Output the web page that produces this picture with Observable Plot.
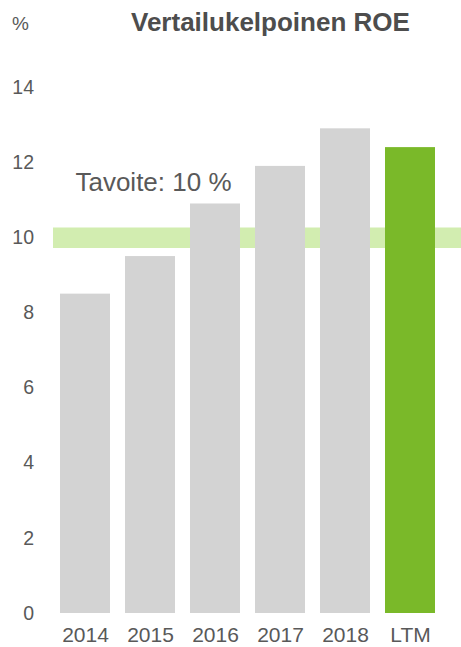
<!DOCTYPE html>
<html>
<head>
<meta charset="utf-8">
<script src="https://cdn.jsdelivr.net/npm/d3@7"></script>
<script src="https://cdn.jsdelivr.net/npm/@observablehq/plot@0.6"></script>
<style>
  body { margin: 0; background: #fff; font-family: Arial, "Liberation Sans", sans-serif; }
  #head { position: relative; width: 461px; height: 45px; }
  #unit { position: absolute; left: 12px; top: 14px; font-size: 19px; line-height: 19px; color: #595959; }
  #title { position: absolute; left: 131px; top: 9px; font-size: 26px; line-height: 26px; font-weight: bold; color: #4d4d4d; white-space: nowrap; }
  #chart svg { display: block; }
</style>
</head>
<body>
<div id="head"><span id="unit">%</span><span id="title">Vertailukelpoinen ROE</span></div>
<div id="chart"></div>
<script>
const categories = ["2014", "2015", "2016", "2017", "2018", "LTM"];
const roeValues = [8.5, 9.5, 10.9, 11.9, 12.9, 12.4];
const yTicks = [0, 2, 4, 6, 8, 10, 12, 14];
const target = 10;
const targetLabel = "Tavoite: 10 %";
const highlight = "LTM";

const data = categories.map((c, i) => ({ cat: c, value: roeValues[i] }));

const gray = "#d3d3d3";
const green = "#7ab929";
const bandColor = "#d2edb0";
const textColor = "#595959";

const chart = Plot.plot({
  width: 461,
  height: 602,
  marginLeft: 53,
  marginRight: 0,
  marginTop: 42,
  marginBottom: 34,
  style: { fontFamily: "Arial, 'Liberation Sans', sans-serif", color: textColor, background: "#fff" },
  x: { domain: categories, range: [60, 436], paddingInner: 0.23, paddingOuter: 0, label: null },
  y: { domain: [0, 14], ticks: yTicks, label: null },
  marks: [
    Plot.ruleY([target], { stroke: bandColor, strokeWidth: 20.5 }),
    Plot.barY(data, { x: "cat", y: "value", fill: d => d.cat === highlight ? green : gray }),
    Plot.text([targetLabel], { x: () => categories[1], y: () => target, text: d => d, dx: 3, dy: -55, fontSize: 26, fill: textColor }),
    Plot.axisX({ tickSize: 0, tickPadding: 14, fontSize: 21, fill: textColor }),
    Plot.axisY({ ticks: yTicks, tickSize: 0, tickPadding: 19.5, fontSize: 19.5, fill: textColor, tickFormat: d => String(d) })
  ]
});
document.getElementById("chart").appendChild(chart);
</script>
</body>
</html>
